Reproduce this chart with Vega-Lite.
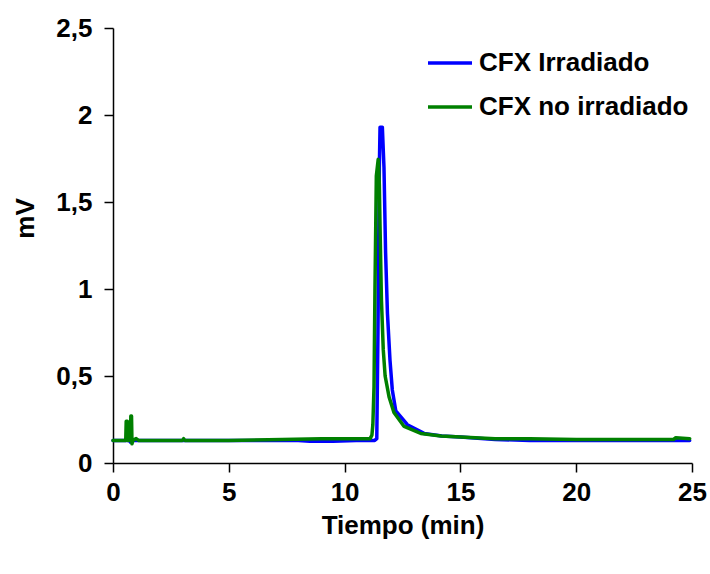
{
  "$schema": "https://vega.github.io/schema/vega-lite/v6.json",
  "autosize": {"type": "none"},
  "width": 579,
  "height": 435,
  "padding": {"left": 113, "top": 28, "right": 18, "bottom": 111},
  "background": "white",
  "config": {
    "view": {"stroke": null},
    "font": "Liberation Sans"
  },
  "data": {
    "values": [
      {"t": 0.0, "mv": 0.13, "serie": "CFX Irradiado"},
      {"t": 0.7, "mv": 0.13, "serie": "CFX Irradiado"},
      {"t": 0.75, "mv": 0.12, "serie": "CFX Irradiado"},
      {"t": 0.85, "mv": 0.13, "serie": "CFX Irradiado"},
      {"t": 2.0, "mv": 0.13, "serie": "CFX Irradiado"},
      {"t": 4.0, "mv": 0.13, "serie": "CFX Irradiado"},
      {"t": 6.0, "mv": 0.13, "serie": "CFX Irradiado"},
      {"t": 8.0, "mv": 0.13, "serie": "CFX Irradiado"},
      {"t": 8.5, "mv": 0.125, "serie": "CFX Irradiado"},
      {"t": 9.5, "mv": 0.125, "serie": "CFX Irradiado"},
      {"t": 10.5, "mv": 0.13, "serie": "CFX Irradiado"},
      {"t": 11.3, "mv": 0.13, "serie": "CFX Irradiado"},
      {"t": 11.39, "mv": 0.14, "serie": "CFX Irradiado"},
      {"t": 11.44, "mv": 0.75, "serie": "CFX Irradiado"},
      {"t": 11.5, "mv": 1.7, "serie": "CFX Irradiado"},
      {"t": 11.53, "mv": 1.93, "serie": "CFX Irradiado"},
      {"t": 11.63, "mv": 1.93, "serie": "CFX Irradiado"},
      {"t": 11.7, "mv": 1.7, "serie": "CFX Irradiado"},
      {"t": 11.77, "mv": 1.21, "serie": "CFX Irradiado"},
      {"t": 11.85, "mv": 0.86, "serie": "CFX Irradiado"},
      {"t": 11.96, "mv": 0.59, "serie": "CFX Irradiado"},
      {"t": 12.06, "mv": 0.42, "serie": "CFX Irradiado"},
      {"t": 12.21, "mv": 0.3, "serie": "CFX Irradiado"},
      {"t": 12.71, "mv": 0.22, "serie": "CFX Irradiado"},
      {"t": 13.43, "mv": 0.17, "serie": "CFX Irradiado"},
      {"t": 14.2, "mv": 0.155, "serie": "CFX Irradiado"},
      {"t": 15.0, "mv": 0.15, "serie": "CFX Irradiado"},
      {"t": 16.5, "mv": 0.135, "serie": "CFX Irradiado"},
      {"t": 18.0, "mv": 0.13, "serie": "CFX Irradiado"},
      {"t": 20.0, "mv": 0.13, "serie": "CFX Irradiado"},
      {"t": 22.0, "mv": 0.13, "serie": "CFX Irradiado"},
      {"t": 24.9, "mv": 0.13, "serie": "CFX Irradiado"},
      {"t": 0.0, "mv": 0.13, "serie": "CFX no irradiado"},
      {"t": 0.55, "mv": 0.13, "serie": "CFX no irradiado"},
      {"t": 0.57, "mv": 0.24, "serie": "CFX no irradiado"},
      {"t": 0.62, "mv": 0.24, "serie": "CFX no irradiado"},
      {"t": 0.64, "mv": 0.13, "serie": "CFX no irradiado"},
      {"t": 0.75, "mv": 0.13, "serie": "CFX no irradiado"},
      {"t": 0.77, "mv": 0.27, "serie": "CFX no irradiado"},
      {"t": 0.8, "mv": 0.27, "serie": "CFX no irradiado"},
      {"t": 0.82, "mv": 0.11, "serie": "CFX no irradiado"},
      {"t": 0.86, "mv": 0.13, "serie": "CFX no irradiado"},
      {"t": 1.0, "mv": 0.14, "serie": "CFX no irradiado"},
      {"t": 1.1, "mv": 0.13, "serie": "CFX no irradiado"},
      {"t": 3.0, "mv": 0.13, "serie": "CFX no irradiado"},
      {"t": 3.05, "mv": 0.14, "serie": "CFX no irradiado"},
      {"t": 3.1, "mv": 0.13, "serie": "CFX no irradiado"},
      {"t": 5.0, "mv": 0.13, "serie": "CFX no irradiado"},
      {"t": 7.3, "mv": 0.135, "serie": "CFX no irradiado"},
      {"t": 9.0, "mv": 0.14, "serie": "CFX no irradiado"},
      {"t": 10.5, "mv": 0.14, "serie": "CFX no irradiado"},
      {"t": 11.1, "mv": 0.14, "serie": "CFX no irradiado"},
      {"t": 11.18, "mv": 0.16, "serie": "CFX no irradiado"},
      {"t": 11.22, "mv": 0.22, "serie": "CFX no irradiado"},
      {"t": 11.27, "mv": 0.44, "serie": "CFX no irradiado"},
      {"t": 11.31, "mv": 0.99, "serie": "CFX no irradiado"},
      {"t": 11.37, "mv": 1.65, "serie": "CFX no irradiado"},
      {"t": 11.45, "mv": 1.745, "serie": "CFX no irradiado"},
      {"t": 11.5, "mv": 1.6, "serie": "CFX no irradiado"},
      {"t": 11.53, "mv": 1.36, "serie": "CFX no irradiado"},
      {"t": 11.59, "mv": 0.94, "serie": "CFX no irradiado"},
      {"t": 11.67, "mv": 0.65, "serie": "CFX no irradiado"},
      {"t": 11.75, "mv": 0.5, "serie": "CFX no irradiado"},
      {"t": 11.92, "mv": 0.38, "serie": "CFX no irradiado"},
      {"t": 12.13, "mv": 0.29, "serie": "CFX no irradiado"},
      {"t": 12.57, "mv": 0.21, "serie": "CFX no irradiado"},
      {"t": 13.29, "mv": 0.17, "serie": "CFX no irradiado"},
      {"t": 14.16, "mv": 0.155, "serie": "CFX no irradiado"},
      {"t": 15.0, "mv": 0.15, "serie": "CFX no irradiado"},
      {"t": 16.5, "mv": 0.14, "serie": "CFX no irradiado"},
      {"t": 18.0, "mv": 0.14, "serie": "CFX no irradiado"},
      {"t": 20.0, "mv": 0.135, "serie": "CFX no irradiado"},
      {"t": 22.0, "mv": 0.135, "serie": "CFX no irradiado"},
      {"t": 24.2, "mv": 0.135, "serie": "CFX no irradiado"},
      {"t": 24.3, "mv": 0.145, "serie": "CFX no irradiado"},
      {"t": 24.9, "mv": 0.14, "serie": "CFX no irradiado"}
    ]
  },
  "mark": {"type": "line", "strokeWidth": 3.5, "strokeJoin": "round", "strokeCap": "round"},
  "encoding": {
    "x": {
      "field": "t", "type": "quantitative",
      "scale": {"domain": [0, 25], "nice": false, "zero": false},
      "axis": {
        "title": "Tiempo (min)", "values": [0, 5, 10, 15, 20, 25], "format": "~g",
        "grid": false, "domainColor": "black", "domainWidth": 1.5,
        "tickColor": "black", "tickWidth": 1.5, "tickSize": 9,
        "labelFontSize": 26, "labelFontWeight": "bold", "labelColor": "black", "labelPadding": 7,
        "labelFlush": false,
        "titleFontSize": 26, "titleFontWeight": "bold", "titleColor": "black", "titlePadding": 7
      }
    },
    "y": {
      "field": "mv", "type": "quantitative",
      "scale": {"domain": [0, 2.5], "nice": false},
      "axis": {
        "title": "mV", "values": [0, 0.5, 1, 1.5, 2, 2.5], "format": "~g",
        "labelExpr": "replace(datum.label, '.', ',')",
        "grid": false, "domainColor": "black", "domainWidth": 1.5,
        "tickColor": "black", "tickWidth": 1.5, "tickSize": 9,
        "labelFontSize": 26, "labelFontWeight": "bold", "labelColor": "black", "labelPadding": 12,
        "labelFlush": false,
        "titleFontSize": 26, "titleFontWeight": "bold", "titleColor": "black",
        "titleX": -88, "titleY": 190, "titleAngle": -90, "titleAlign": "center", "titleBaseline": "middle"
      }
    },
    "color": {
      "field": "serie", "type": "nominal",
      "scale": {"domain": ["CFX Irradiado", "CFX no irradiado"], "range": ["#0000FF", "#008000"]},
      "legend": {
        "title": null, "orient": "none", "legendX": 313, "legendY": 11,
        "symbolType": "stroke", "symbolSize": 1936, "symbolStrokeWidth": 3.5,
        "labelFontSize": 26, "labelFontWeight": "bold", "labelColor": "black",
        "labelOffset": 5, "rowPadding": 7, "labelLimit": 400
      }
    }
  }
}
